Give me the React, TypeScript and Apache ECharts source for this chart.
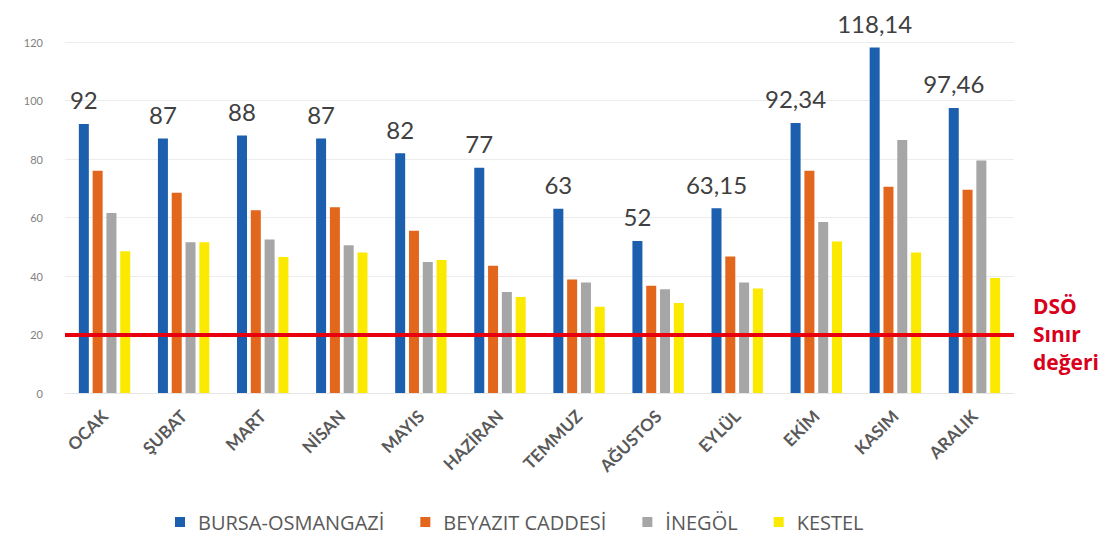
import React, { useEffect, useRef } from "react";
import * as echarts from "echarts";

const months = ["OCAK", "ŞUBAT", "MART", "NİSAN", "MAYIS", "HAZİRAN", "TEMMUZ", "AĞUSTOS", "EYLÜL", "EKİM", "KASIM", "ARALIK"];
const bursaOsmangazi = [92, 87, 88, 87, 82, 77, 63, 52, 63.15, 92.34, 118.14, 97.46];
const beyazitCaddesi = [76, 68.5, 62.5, 63.5, 55.5, 43.5, 38.8, 36.7, 46.7, 76, 70.5, 69.5];
const inegol = [61.5, 51.5, 52.5, 50.5, 44.8, 34.5, 37.8, 35.5, 37.8, 58.5, 86.5, 79.5];
const kestel = [48.5, 51.5, 46.5, 48, 45.5, 32.8, 29.5, 30.8, 35.7, 51.8, 48, 39.3];
const seriesNames = ["BURSA-OSMANGAZİ", "BEYAZIT CADDESİ", "İNEGÖL", "KESTEL"];
const limitValue = 20;
const yTicks = { min: 0, max: 120, interval: 20 };

const colors = ["#1c5fae", "#e2661b", "#a6a6a6", "#fbe900"];

const fmt = (v: number) => String(v).replace(".", ",");

export default function App() {
  const ref = useRef<HTMLDivElement>(null);
  useEffect(() => {
    if (!ref.current) return;
    const chart = echarts.init(ref.current, undefined, { renderer: "svg" });
    const dataSets = [bursaOsmangazi, beyazitCaddesi, inegol, kestel];
    chart.setOption({
      animation: false,
      textStyle: { fontFamily: "Lato, 'Open Sans', sans-serif" },
      grid: { left: 65, right: 99, top: 42, bottom: 143 },
      legend: {
        top: 511,
        left: 175,
        padding: 0,
        itemWidth: 10,
        itemHeight: 10,
        itemGap: 36,
        icon: "rect",
        textStyle: {
          fontSize: 20,
          lineHeight: 22,
          color: "#595959",
          fontFamily: "'Open Sans', sans-serif",
          padding: [0, 0, 0, 8],
        },
        data: seriesNames,
      },
      xAxis: {
        type: "category",
        data: months,
        axisLine: { show: true, lineStyle: { color: "#e6e6e6" } },
        axisTick: { show: false },
        axisLabel: {
          rotate: 45,
          fontSize: 17,
          fontWeight: "bold",
          color: "#595959",
          margin: 20,
          interval: 0,
        },
      },
      yAxis: {
        type: "value",
        min: yTicks.min,
        max: yTicks.max,
        interval: yTicks.interval,
        axisLine: { show: false },
        axisTick: { show: false },
        splitLine: { lineStyle: { color: "#ececec", width: 1 } },
        axisLabel: { fontSize: 11, color: "#7f7f7f", margin: 22 },
      },
      series: dataSets.map((d, i) => ({
        name: seriesNames[i],
        type: "bar",
        data: d,
        barWidth: 10,
        barGap: "38%",
        itemStyle: { color: colors[i] },
        label:
          i === 0
            ? {
                show: true,
                position: "top",
                distance: 12,
                fontSize: 24,
                color: "#404040",
                formatter: (p: any) => fmt(p.value),
              }
            : { show: false },
        markLine:
          i === 3
            ? {
                silent: true,
                symbol: "none",
                label: { show: false },
                lineStyle: { color: "#e8000f", width: 4, type: "solid" },
                data: [{ yAxis: limitValue }],
              }
            : undefined,
        z: 2,
      })),
      graphic: [
        {
          type: "text",
          left: 1033,
          top: 292,
          style: {
            text: "DSÖ\nSınır\ndeğeri",
            fill: "#d9001b",
            font: "bold 21px 'Open Sans', sans-serif",
            lineHeight: 28,
            align: "left",
          },
        },
      ],
    });
    return () => chart.dispose();
  }, []);
  return <div ref={ref} style={{ position: "fixed", left: 0, top: 0, width: 1113, height: 536, background: "#fff" }} />;
}
